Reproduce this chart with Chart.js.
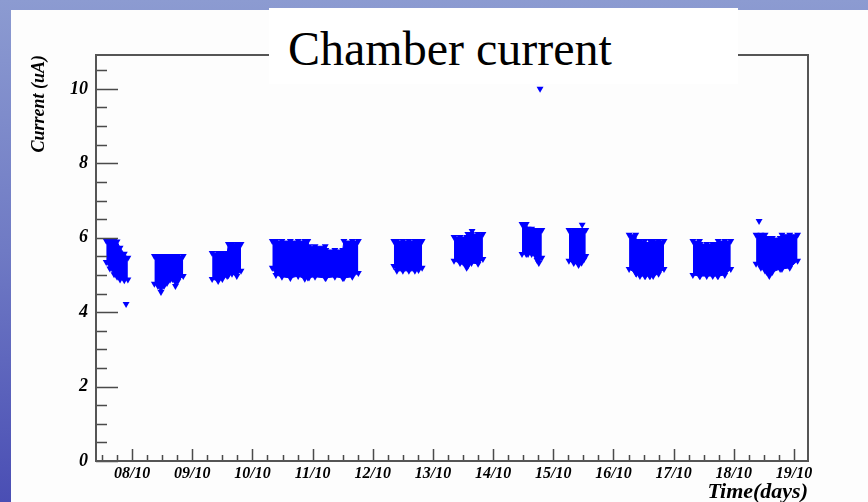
<!DOCTYPE html>
<html>
<head>
<meta charset="utf-8">
<script src="https://cdn.jsdelivr.net/npm/chart.js@4/dist/chart.umd.min.js"></script>
<style>
  html, body { margin: 0; padding: 0; }
  body { width: 868px; height: 502px; overflow: hidden; position: relative;
         background: linear-gradient(180deg, #8c9bd1 0%, #6f7ac4 50%, #4a4eb4 100%); }
  #panel { position: absolute; left: 11px; top: 10px; width: 857px; height: 492px; background: #fdfdfd; }
  #c { position: absolute; left: 0; top: 0; }
  #titlebox { position: absolute; left: 269px; top: 8px; width: 469px; height: 76px; background: #ffffff; }
  #title { position: absolute; left: 288px; top: 25px; font: 48px/48px "Liberation Serif", "Times New Roman", serif; color: #000; white-space: nowrap; }
</style>
</head>
<body>
<div id="panel"></div>
<canvas id="c" width="868" height="502"></canvas>
<div id="titlebox"></div>
<div id="title">Chamber current</div>
<script>
// ---- data (time in days of October, current in uA) ----
const clusterTimes = [
  [7.57, 7.63, 7.70, 7.75, 7.80, 7.87, 7.93],
  [8.37, 8.43, 8.48, 8.53, 8.58, 8.63, 8.67, 8.72, 8.76, 8.85],
  [9.33, 9.43, 9.50, 9.58, 9.60, 9.66, 9.74, 9.81],
  [10.33, 10.39, 10.49, 10.63, 10.76, 10.87, 10.92, 10.94, 11.04, 11.21, 11.22, 11.37, 11.50, 11.52, 11.66, 11.76],
  [12.35, 12.40, 12.50, 12.60, 12.70, 12.76, 12.82],
  [13.35, 13.45, 13.56, 13.58, 13.64, 13.75, 13.83],
  [14.48, 14.55, 14.58, 14.64, 14.70, 14.73, 14.76, 14.81],
  [15.26, 15.34, 15.42, 15.47, 15.51, 15.54],
  [16.26, 16.37, 16.38, 16.44, 16.52, 16.53, 16.60, 16.61, 16.66, 16.75, 16.84],
  [17.32, 17.43, 17.44, 17.55, 17.65, 17.73, 17.74, 17.85, 17.95],
  [18.37, 18.45, 18.52, 18.55, 18.59, 18.64, 18.77, 18.80, 18.93, 19.06]
];
const clusterHigh = [
  [5.92, 5.92, 5.92, 5.90, 5.73, 5.57, 5.46],
  [5.51, 5.51, 5.51, 5.51, 5.51, 5.51, 5.51, 5.51, 5.51, 5.51],
  [5.59, 5.59, 5.59, 5.59, 5.83, 5.83, 5.83, 5.83],
  [5.91, 5.91, 5.91, 5.91, 5.91, 5.91, 5.91, 5.77, 5.77, 5.77, 5.67, 5.67, 5.67, 5.91, 5.91, 5.91],
  [5.91, 5.91, 5.91, 5.91, 5.91, 5.91, 5.91],
  [6.02, 6.02, 6.02, 6.10, 6.10, 6.10, 6.10],
  [6.37, 6.37, 6.24, 6.24, 6.21, 6.21, 6.21, 6.21],
  [6.21, 6.21, 6.21, 6.21, 6.21, 6.21],
  [6.08, 6.08, 5.91, 5.91, 5.91, 5.83, 5.83, 5.91, 5.91, 5.91, 5.91],
  [5.91, 5.91, 5.83, 5.83, 5.83, 5.83, 5.91, 5.91, 5.91],
  [6.08, 6.08, 6.08, 5.99, 5.99, 5.99, 5.99, 6.08, 6.08, 6.08]
];
const clusterLow = [
  [5.35, 5.17, 5.02, 4.95, 4.88, 4.86, 4.88],
  [4.76, 4.70, 4.54, 4.70, 4.78, 4.87, 4.89, 4.70, 4.84, 4.97],
  [4.89, 4.84, 4.89, 4.97, 4.99, 5.03, 4.97, 5.11],
  [5.19, 5.00, 4.95, 4.92, 4.97, 4.90, 4.93, 4.93, 4.95, 4.92, 4.92, 4.95, 4.92, 4.92, 4.95, 5.05],
  [5.24, 5.11, 5.11, 5.11, 5.11, 5.13, 5.19],
  [5.38, 5.32, 5.19, 5.25, 5.32, 5.30, 5.43],
  [5.56, 5.56, 5.56, 5.56, 5.52, 5.40, 5.32, 5.46],
  [5.38, 5.32, 5.27, 5.33, 5.42, 5.51],
  [5.16, 5.05, 5.03, 4.97, 4.97, 4.97, 4.97, 4.97, 4.97, 5.03, 5.16],
  [5.00, 4.97, 4.97, 4.97, 4.97, 4.97, 4.97, 5.00, 5.16],
  [5.30, 5.19, 5.11, 5.08, 4.97, 5.08, 5.16, 5.16, 5.19, 5.38]
];
const isolatedTimes  = [7.90, 13.65, 14.78, 15.48, 18.42];
const isolatedValues = [4.22, 6.18, 10.00, 6.35, 6.45];
const dayTicks  = [8, 9, 10, 11, 12, 13, 14, 15, 16, 17, 18, 19];
const dayLabels = ['08/10', '09/10', '10/10', '11/10', '12/10', '13/10', '14/10', '15/10', '16/10', '17/10', '18/10', '19/10'];

// ---- build datasets ----
const BLUE = '#0000ff';
const markerStyle = { pointStyle: 'triangle', rotation: 180, pointRadius: 4, pointBackgroundColor: BLUE, pointBorderColor: BLUE, pointBorderWidth: 0 };
const datasets = [];
clusterTimes.forEach((ts, i) => {
  datasets.push(Object.assign({
    data: ts.map((t, k) => ({ x: t, y: clusterHigh[i][k] })),
    showLine: true, borderColor: BLUE, borderWidth: 1, fill: false
  }, markerStyle));
  datasets.push(Object.assign({
    data: ts.map((t, k) => ({ x: t, y: clusterLow[i][k] })),
    showLine: true, borderColor: BLUE, borderWidth: 1, fill: '-1', backgroundColor: BLUE
  }, markerStyle));
});
datasets.push(Object.assign({
  data: isolatedTimes.map((t, k) => ({ x: t, y: isolatedValues[k] })),
  showLine: false
}, markerStyle));

const tickFont = (size, lh) => ({ family: '"Liberation Serif", "Times New Roman", serif', size: size, style: 'italic', weight: 'bold', lineHeight: lh || 1.2 });

const rootAxes = {
  id: 'rootAxes',
  afterDraw(chart) {
    const { ctx, chartArea: a, scales: { x, y } } = chart;
    ctx.save();
    ctx.strokeStyle = '#4a4a4a';
    ctx.lineWidth = 1.5;
    ctx.beginPath();
    x.ticks.forEach(t => {
      const v = t.value;
      if (Math.abs(v * 4 - Math.round(v * 4)) > 1e-6) return;
      const px = Math.round(x.getPixelForValue(v)) + 0.5;
      const len = Math.abs(v - Math.round(v)) < 1e-6 ? 12 : 6;
      ctx.moveTo(px, a.bottom); ctx.lineTo(px, a.bottom - len);
    });
    y.ticks.forEach(t => {
      const v = t.value;
      if (Math.abs(v * 2 - Math.round(v * 2)) > 1e-6) return;
      const py = Math.round(y.getPixelForValue(v)) + 0.5;
      const major = Math.abs(v - Math.round(v)) < 1e-6 && Math.round(v) % 2 === 0;
      const len = major ? 22 : 11;
      ctx.moveTo(a.left, py); ctx.lineTo(a.left + len, py);
    });
    ctx.stroke();
    ctx.lineWidth = 2;
    ctx.strokeStyle = '#555555';
    ctx.strokeRect(a.left, a.top, a.right - a.left, a.bottom - a.top);
    ctx.restore();
  }
};

new Chart(document.getElementById('c'), {
  type: 'scatter',
  data: { datasets },
  plugins: [rootAxes],
  options: {
    responsive: false,
    animation: false,
    devicePixelRatio: 1,
    layout: { padding: { left: 0, right: 60, top: 55, bottom: 0 } },
    plugins: { legend: { display: false }, tooltip: { enabled: false }, title: { display: false } },
    scales: {
      x: {
        type: 'linear', min: 7.40, max: 19.233,
        grid: { display: false, drawTicks: false }, border: { display: false },
        ticks: {
          stepSize: 0.25, includeBounds: false, autoSkip: false, maxRotation: 0, minRotation: 0,
          padding: 3, color: '#000', font: tickFont(16),
          callback: (v) => { const i = dayTicks.findIndex(d => Math.abs(d - v) < 1e-6); return i >= 0 ? dayLabels[i] : ''; }
        },
        title: { display: true, text: 'Time(days)', align: 'end', color: '#000', font: tickFont(22, 1), padding: { top: 0, bottom: -1 } },
        afterFit: (s) => { s.height = 41; }
      },
      y: {
        type: 'linear', min: 0, max: 10.91,
        grid: { display: false, drawTicks: false }, border: { display: false },
        ticks: {
          stepSize: 0.5, includeBounds: false, autoSkip: false,
          padding: 8, color: '#000', font: tickFont(18),
          callback: (v) => (Math.abs(v - Math.round(v)) < 1e-6 && Math.round(v) % 2 === 0) ? String(Math.round(v)) : ''
        },
        title: { display: true, text: 'Current (uA)', align: 'end', color: '#000', font: tickFont(18, 1), padding: { top: 30, bottom: 0 } },
        afterFit: (s) => { s.width = 96; }
      }
    }
  }
});
</script>
</body>
</html>
